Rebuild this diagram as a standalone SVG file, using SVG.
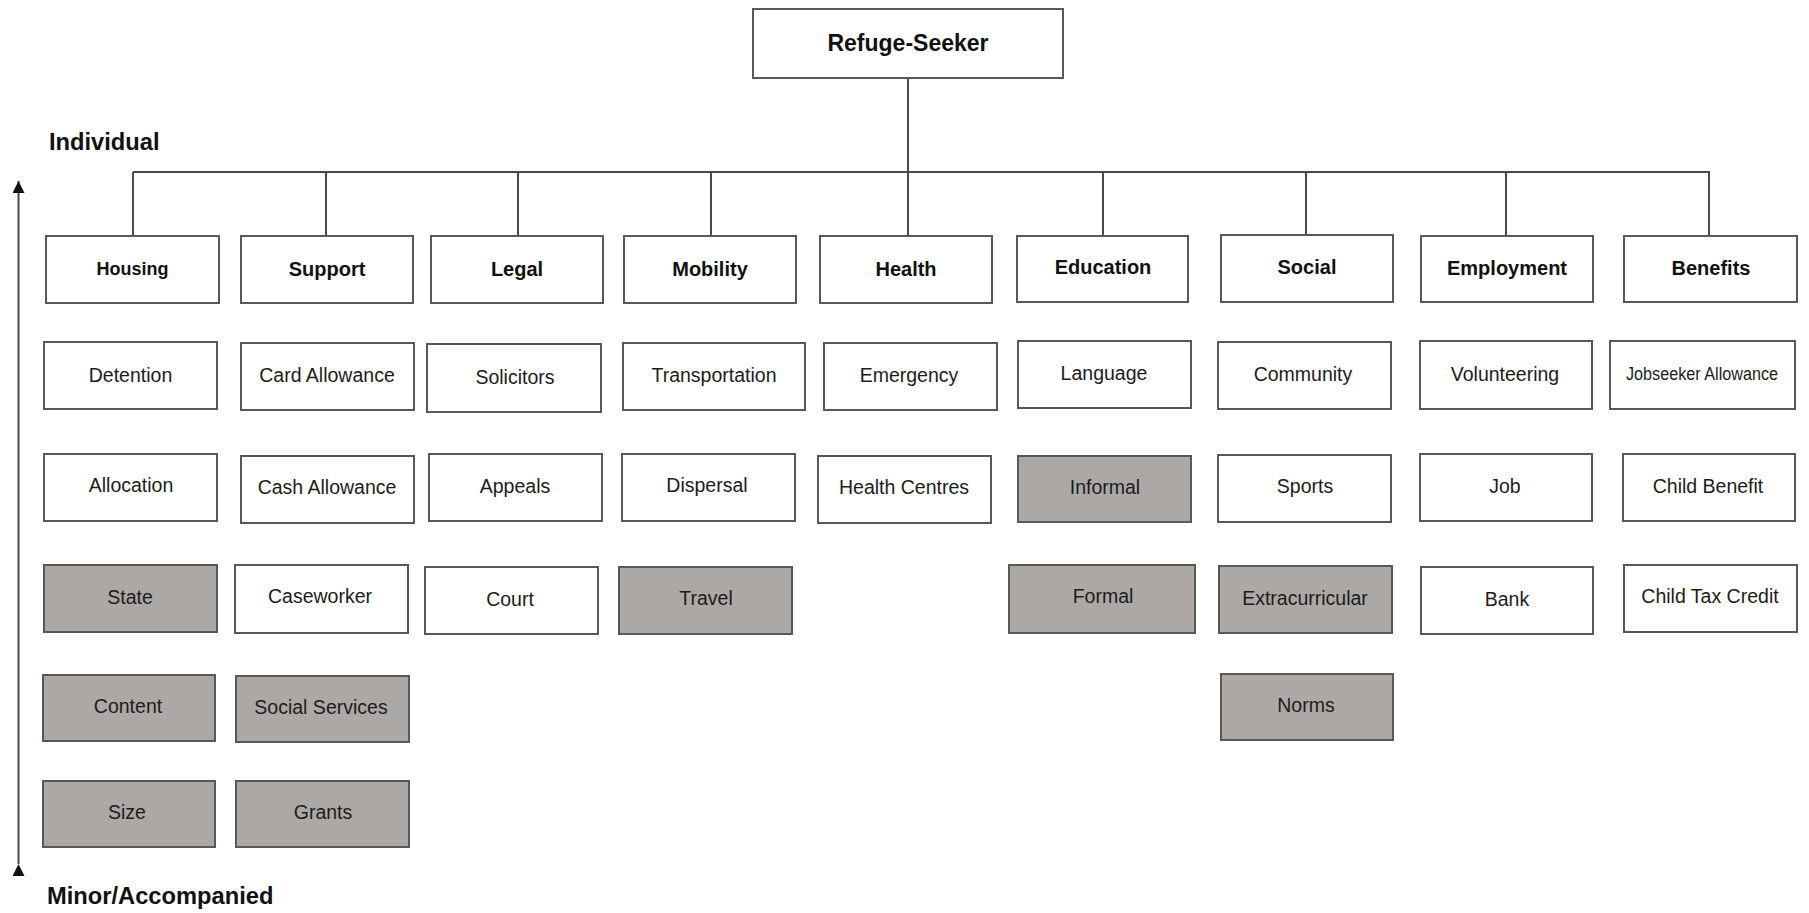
<svg xmlns="http://www.w3.org/2000/svg" width="1809" height="913" viewBox="0 0 1809 913">
  <style>
    .box { fill: #ffffff; stroke: #585858; stroke-width: 2; }
    .shade { fill: #aca8a6; stroke: #585858; stroke-width: 2; }
    .lbl { font-family: "Liberation Sans", Arial, sans-serif; font-size: 19.5px; fill: #1c1c1c; text-anchor: middle; }
    .hdr { font-family: "Liberation Sans", Arial, sans-serif; font-size: 20px; font-weight: bold; fill: #111111; text-anchor: middle; }
    .axis { font-family: "Liberation Sans", Arial, sans-serif; font-size: 23.7px; font-weight: bold; fill: #111111; }
    .wire { fill: none; stroke: #4a4a4a; stroke-width: 2; }
  </style>
  <defs>
    <marker id="tip" viewBox="0 0 12 12" refX="12" refY="6" markerWidth="12" markerHeight="12" markerUnits="userSpaceOnUse" orient="auto">
      <path d="M0,0 L12,6 L0,12 Z" fill="#111111"/>
    </marker>
  </defs>
  <rect width="1809" height="913" fill="#ffffff"/>

  <!-- tree connectors -->
  <g id="connectors" class="wire">
    <line x1="908" y1="78" x2="908" y2="172"/>
    <line x1="133" y1="172" x2="1710" y2="172"/>
    <line x1="133" y1="172" x2="133" y2="236"/>
    <line x1="326" y1="172" x2="326" y2="236"/>
    <line x1="518" y1="172" x2="518" y2="236"/>
    <line x1="711" y1="172" x2="711" y2="236"/>
    <line x1="908" y1="172" x2="908" y2="236"/>
    <line x1="1103" y1="172" x2="1103" y2="236"/>
    <line x1="1306" y1="172" x2="1306" y2="236"/>
    <line x1="1506" y1="172" x2="1506" y2="236"/>
    <line x1="1709" y1="172" x2="1709" y2="236"/>
  </g>

  <!-- vertical scale axis -->
  <g id="axis">
    <line x1="18.5" y1="864" x2="18.5" y2="181" stroke="#4a4a4a" stroke-width="2" marker-start="url(#tip)" marker-end="url(#tip)"/>
    <text class="axis" x="49" y="150">Individual</text>
    <text class="axis" x="47" y="904">Minor/Accompanied</text>
  </g>

  <!-- root -->
  <g id="refuge-seeker">
    <rect class="box" x="753" y="9" width="310" height="69"/>
    <text class="hdr" x="908" y="51" style="font-size:23px">Refuge-Seeker</text>
  </g>

  <!-- category headers -->
  <g id="housing"><rect class="box" x="46" y="236" width="173" height="67"/><text class="hdr" x="132.5" y="275" style="font-size:18px">Housing</text></g>
  <g id="support"><rect class="box" x="241" y="236" width="172" height="67"/><text class="hdr" x="327" y="276">Support</text></g>
  <g id="legal"><rect class="box" x="431" y="236" width="172" height="67"/><text class="hdr" x="517" y="276">Legal</text></g>
  <g id="mobility"><rect class="box" x="624" y="236" width="172" height="67"/><text class="hdr" x="710" y="276">Mobility</text></g>
  <g id="health"><rect class="box" x="820" y="236" width="172" height="67"/><text class="hdr" x="906" y="276">Health</text></g>
  <g id="education"><rect class="box" x="1017" y="236" width="171" height="66"/><text class="hdr" x="1103" y="274">Education</text></g>
  <g id="social"><rect class="box" x="1221" y="235" width="172" height="67"/><text class="hdr" x="1307" y="274">Social</text></g>
  <g id="employment"><rect class="box" x="1421" y="236" width="172" height="66"/><text class="hdr" x="1507" y="275">Employment</text></g>
  <g id="benefits"><rect class="box" x="1624" y="236" width="173" height="66"/><text class="hdr" x="1711" y="275">Benefits</text></g>

  <!-- housing column -->
  <g id="detention"><rect class="box" x="44" y="342" width="173" height="67"/><text class="lbl" x="130.5" y="382">Detention</text></g>
  <g id="allocation"><rect class="box" x="44" y="454" width="173" height="67"/><text class="lbl" x="131" y="492">Allocation</text></g>
  <g id="state"><rect class="shade" x="44" y="565" width="173" height="67"/><text class="lbl" x="130" y="604">State</text></g>
  <g id="content"><rect class="shade" x="43" y="675" width="172" height="66"/><text class="lbl" x="128" y="713">Content</text></g>
  <g id="size"><rect class="shade" x="43" y="781" width="172" height="66"/><text class="lbl" x="127" y="819">Size</text></g>

  <!-- support column -->
  <g id="card-allowance"><rect class="box" x="241" y="343" width="173" height="67"/><text class="lbl" x="327" y="382">Card Allowance</text></g>
  <g id="cash-allowance"><rect class="box" x="241" y="456" width="173" height="67"/><text class="lbl" x="327" y="494">Cash Allowance</text></g>
  <g id="caseworker"><rect class="box" x="235" y="565" width="173" height="68"/><text class="lbl" x="320" y="603">Caseworker</text></g>
  <g id="social-services"><rect class="shade" x="236" y="676" width="173" height="66"/><text class="lbl" x="321" y="714">Social Services</text></g>
  <g id="grants"><rect class="shade" x="236" y="781" width="173" height="66"/><text class="lbl" x="323" y="819">Grants</text></g>

  <!-- legal column -->
  <g id="solicitors"><rect class="box" x="427" y="344" width="174" height="68"/><text class="lbl" x="515" y="384">Solicitors</text></g>
  <g id="appeals"><rect class="box" x="429" y="454" width="173" height="67"/><text class="lbl" x="515" y="493">Appeals</text></g>
  <g id="court"><rect class="box" x="425" y="567" width="173" height="67"/><text class="lbl" x="510" y="606">Court</text></g>

  <!-- mobility column -->
  <g id="transportation"><rect class="box" x="623" y="343" width="182" height="67"/><text class="lbl" x="714" y="382">Transportation</text></g>
  <g id="dispersal"><rect class="box" x="622" y="454" width="173" height="67"/><text class="lbl" x="707" y="492">Dispersal</text></g>
  <g id="travel"><rect class="shade" x="619" y="567" width="173" height="67"/><text class="lbl" x="706" y="605">Travel</text></g>

  <!-- health column -->
  <g id="emergency"><rect class="box" x="824" y="343" width="173" height="67"/><text class="lbl" x="909" y="382">Emergency</text></g>
  <g id="health-centres"><rect class="box" x="818" y="456" width="173" height="67"/><text class="lbl" x="904" y="494">Health Centres</text></g>

  <!-- education column -->
  <g id="language"><rect class="box" x="1018" y="341" width="173" height="67"/><text class="lbl" x="1104" y="380">Language</text></g>
  <g id="informal"><rect class="shade" x="1018" y="456" width="173" height="66"/><text class="lbl" x="1105" y="494">Informal</text></g>
  <g id="formal"><rect class="shade" x="1009" y="565" width="186" height="68"/><text class="lbl" x="1103" y="603">Formal</text></g>

  <!-- social column -->
  <g id="community"><rect class="box" x="1218" y="342" width="173" height="67"/><text class="lbl" x="1303" y="381">Community</text></g>
  <g id="sports"><rect class="box" x="1218" y="455" width="173" height="67"/><text class="lbl" x="1305" y="493">Sports</text></g>
  <g id="extracurricular"><rect class="shade" x="1219" y="566" width="173" height="67"/><text class="lbl" x="1305" y="605">Extracurricular</text></g>
  <g id="norms"><rect class="shade" x="1221" y="674" width="172" height="66"/><text class="lbl" x="1306" y="712">Norms</text></g>

  <!-- employment column -->
  <g id="volunteering"><rect class="box" x="1420" y="341" width="172" height="68"/><text class="lbl" x="1505" y="381">Volunteering</text></g>
  <g id="job"><rect class="box" x="1420" y="454" width="172" height="67"/><text class="lbl" x="1505" y="493">Job</text></g>
  <g id="bank"><rect class="box" x="1421" y="567" width="172" height="67"/><text class="lbl" x="1507" y="606">Bank</text></g>

  <!-- benefits column -->
  <g id="jobseeker-allowance"><rect class="box" x="1610" y="341" width="185" height="68"/><text class="lbl" x="1702" y="380" style="font-size:18px" textLength="152" lengthAdjust="spacingAndGlyphs">Jobseeker Allowance</text></g>
  <g id="child-benefit"><rect class="box" x="1623" y="454" width="172" height="67"/><text class="lbl" x="1708" y="493">Child Benefit</text></g>
  <g id="child-tax-credit"><rect class="box" x="1624" y="565" width="173" height="67"/><text class="lbl" x="1710" y="603">Child Tax Credit</text></g>
</svg>
